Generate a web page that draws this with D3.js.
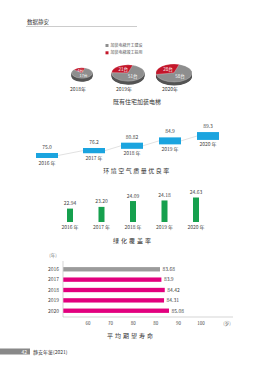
<!DOCTYPE html>
<html>
<head>
<meta charset="utf-8">
<script src="https://cdn.jsdelivr.net/npm/d3@7"></script>
<style>
  body { margin: 0; background: #fff; }
  svg { display: block; font-family: "Noto Sans CJK SC", "Noto Sans", sans-serif; }
</style>
</head>
<body>
<div id="chart"></div>
<script>
// elevator pies
const pieYears = ["2018年", "2019年", "2020年"];
const pieStarted = [17, 51, 58];   // 加装电梯开工建设
const pieFinished = [4, 21, 28];   // 加装电梯竣工投用

// air quality
const airYears = ["2016 年", "2017 年", "2018 年", "2019 年", "2020 年"];
const airValues = [75.0, 76.2, 80.82, 84.9, 89.3];
const airLabels = ["75.0", "76.2", "80.82", "84.9", "89.3"];

// green coverage
const greenYears = ["2016 年", "2017 年", "2018 年", "2019 年", "2020 年"];
const greenValues = [22.94, 23.20, 24.09, 24.18, 24.63];

// life expectancy
const lifeYears = ["2016", "2017", "2018", "2019", "2020"];
const lifeValues = [83.68, 83.9, 84.42, 84.31, 85.08];
const lifeLabels = ["83.68", "83.9", "84.42", "84.31", "85.08"];
const lifeTicks = ["60", "70", "80", "80", "90", "100"];

const W = 274, H = 380;
const svg = d3.select("#chart").append("svg").attr("width", W).attr("height", H);

// header
svg.append("text").attr("x", 27).attr("y", 24).attr("font-size", 5.5).attr("fill", "#333").text("数据静安");
svg.append("line").attr("x1", 26).attr("x2", 137).attr("y1", 26.5).attr("y2", 26.5)
    .attr("stroke", "#aaa").attr("stroke-width", 0.6);

// ---------- pies ----------
const legend = [
    { name: "加装电梯开工建设", color: "#8e8e8e" },
    { name: "加装电梯竣工投用", color: "#c4162a" }
];
legend.forEach((d, i) => {
    svg.append("rect").attr("x", 105.5).attr("y", 44 + i * 7.3).attr("width", 3).attr("height", 3).attr("fill", d.color);
    svg.append("text").attr("x", 110.5).attr("y", 47 + i * 7.3).attr("font-size", 4).attr("fill", "#555").text(d.name);
});

const px = d3.scalePoint().domain(pieYears).range([82, 174]);
const totals = pieYears.map((y, i) => pieStarted[i] + pieFinished[i]);
const rScale = d3.scaleLinear().domain([0, d3.max(totals)]).range([8, 18]);

pieYears.forEach((yr, i) => {
    const r = rScale(totals[i]);
    const data = [
        { v: pieFinished[i], c: "#c4162a", side: "#7d0d19" },
        { v: pieStarted[i], c: "#8e8e8e", side: "#555" }
    ];
    const redAng = 2 * Math.PI * pieFinished[i] / totals[i];
    const start = 0.3 - redAng;
    const arcs = d3.pie().sort(null).value(d => d.v).startAngle(start).endAngle(start + 2 * Math.PI)(data);
    const arc = d3.arc().innerRadius(0).outerRadius(r);
    const g = svg.append("g").attr("transform", `translate(${px(yr)},73)`);
    const depth = 3.5;
    for (let dpt = depth; dpt > 0; dpt -= 0.5) {
        g.append("g").attr("transform", `translate(0,${dpt}) scale(1,0.5)`)
            .selectAll("path").data(arcs).join("path")
            .attr("d", arc).attr("fill", d => d.data.side);
    }
    const top = g.append("g").attr("transform", "scale(1,0.5)");
    top.selectAll("path").data(arcs).join("path")
        .attr("d", arc).attr("fill", d => d.data.c)
        .attr("stroke", "#fff").attr("stroke-width", 0.3);
    arcs.forEach(a => {
        const c = d3.arc().innerRadius(r * 0.5).outerRadius(r * 0.5).centroid(a);
        g.append("text").attr("x", c[0]).attr("y", c[1] * 0.5 + 1.5)
            .attr("text-anchor", "middle").attr("font-size", r > 12 ? 4.5 : 3.8)
            .attr("fill", "#fff").text(a.data.v + "台");
    });
    svg.append("text").attr("x", px(yr) - 4).attr("y", 91).attr("text-anchor", "middle")
        .attr("font-size", 5).attr("fill", "#333").text(yr);
});
svg.append("text").attr("x", 137).attr("y", 103.5).attr("text-anchor", "middle")
    .attr("font-size", 6).attr("fill", "#333").text("既有住宅加装电梯");

// ---------- air quality ----------
// first step sits a bit further left than the rest
const axIdx = d3.scaleLinear().domain([0, 1, 4]).range([47, 94, 208]);
const ax = d => axIdx(airYears.indexOf(d));
const ay = d3.scalePoint().domain(airYears).range([155.5, 136]);
const ah = d3.scaleLinear().domain([70, 90]).range([4, 8]);
const bw = 22;
const airLinks = d3.pairs(airYears);
svg.selectAll(".air-link").data(airLinks).join("line")
    .attr("x1", d => ax(d[0]) + bw / 2).attr("y1", d => ay(d[0]))
    .attr("x2", d => ax(d[1]) - bw / 2).attr("y2", d => ay(d[1]))
    .attr("stroke", "#ccc").attr("stroke-width", 0.6);
svg.selectAll(".air-bar").data(airYears).join("rect")
    .attr("x", d => ax(d) - bw / 2)
    .attr("y", (d, i) => ay(d) - ah(airValues[i]) / 2)
    .attr("width", bw)
    .attr("height", (d, i) => ah(airValues[i]))
    .attr("fill", "#1ba4df");
svg.selectAll(".air-val").data(airYears).join("text")
    .attr("x", d => ax(d)).attr("y", (d, i) => ay(d) - ah(airValues[i]) / 2 - 4)
    .attr("text-anchor", "middle").attr("font-size", 5).attr("fill", "#444")
    .text((d, i) => airLabels[i]);
svg.selectAll(".air-yr").data(airYears).join("text")
    .attr("x", d => ax(d)).attr("y", (d, i) => ay(d) + ah(airValues[i]) / 2 + 6.5)
    .attr("text-anchor", "middle").attr("font-size", 5).attr("fill", "#444")
    .text(d => d);
svg.append("text").attr("x", 137).attr("y", 173).attr("text-anchor", "middle")
    .attr("font-size", 6).attr("letter-spacing", 1.5).attr("fill", "#333").text("环境空气质量优良率");

// ---------- green coverage ----------
const gx = d3.scalePoint().domain(greenYears).range([70, 196]);
const gy = d3.scaleLinear().domain([20.9, 24.63]).range([222, 197.5]);
svg.selectAll(".g-bar").data(greenYears).join("rect")
    .attr("x", d => gx(d) - 3)
    .attr("y", (d, i) => gy(greenValues[i]))
    .attr("width", 6)
    .attr("height", (d, i) => gy(20.9) - gy(greenValues[i]))
    .attr("fill", "#16a04e");
svg.selectAll(".g-val").data(greenYears).join("text")
    .attr("x", d => gx(d)).attr("y", (d, i) => gy(greenValues[i]) - 3.5)
    .attr("text-anchor", "middle").attr("font-size", 5).attr("fill", "#444")
    .text((d, i) => greenValues[i].toFixed(2));
svg.selectAll(".g-yr").data(greenYears).join("text")
    .attr("x", d => gx(d)).attr("y", 229)
    .attr("text-anchor", "middle").attr("font-size", 5).attr("fill", "#444")
    .text(d => d);
svg.append("text").attr("x", 133).attr("y", 243).attr("text-anchor", "middle")
    .attr("font-size", 6).attr("letter-spacing", 2).attr("fill", "#333").text("绿化覆盖率");

// ---------- life expectancy ----------
const lx = d3.scaleLinear().domain([68.6, 85.08]).range([63, 169]);
const ly = d3.scaleBand().domain(lifeYears).range([264, 316]).paddingInner(0.58).paddingOuter(0.3);
svg.append("line").attr("x1", 63).attr("x2", 63).attr("y1", 261).attr("y2", 317)
    .attr("stroke", "#bbb").attr("stroke-width", 0.6);
svg.append("line").attr("x1", 63).attr("x2", 233).attr("y1", 317).attr("y2", 317)
    .attr("stroke", "#bbb").attr("stroke-width", 0.6);
svg.append("text").attr("x", 53).attr("y", 257).attr("text-anchor", "middle")
    .attr("font-size", 4.5).attr("fill", "#777").text("(年)");
svg.selectAll(".l-bar").data(lifeYears).join("rect")
    .attr("x", 63.3)
    .attr("y", d => ly(d))
    .attr("width", (d, i) => lx(lifeValues[i]) - 63.3)
    .attr("height", ly.bandwidth())
    .attr("fill", (d, i) => i === 0 ? "#9b9b9b" : "#e2007e");
svg.selectAll(".l-val").data(lifeYears).join("text")
    .attr("x", (d, i) => lx(lifeValues[i]) + 2.5)
    .attr("y", d => ly(d) + ly.bandwidth() / 2 + 1.8)
    .attr("font-size", 5).attr("fill", "#444")
    .text((d, i) => lifeLabels[i]);
svg.selectAll(".l-yr").data(lifeYears).join("text")
    .attr("x", 59)
    .attr("y", d => ly(d) + ly.bandwidth() / 2 + 1.8)
    .attr("text-anchor", "end").attr("font-size", 5).attr("fill", "#444")
    .text(d => d);
const tx = d3.scaleLinear().domain([0, lifeTicks.length - 1]).range([88, 201]);
svg.selectAll(".l-tick").data(lifeTicks).join("text")
    .attr("x", (d, i) => tx(i)).attr("y", 325)
    .attr("text-anchor", "middle").attr("font-size", 4.5).attr("fill", "#444")
    .text(d => d);
svg.append("text").attr("x", 227).attr("y", 325).attr("text-anchor", "middle")
    .attr("font-size", 4.5).attr("fill", "#777").text("(岁)");
svg.append("text").attr("x", 131).attr("y", 337.5).attr("text-anchor", "middle")
    .attr("font-size", 6).attr("letter-spacing", 2).attr("fill", "#333").text("平均期望寿命");

// footer
svg.append("rect").attr("x", 0).attr("y", 348.5).attr("width", 30).attr("height", 6).attr("fill", "#888");
svg.append("text").attr("x", 27).attr("y", 353.5).attr("text-anchor", "end")
    .attr("font-size", 5).attr("fill", "#fff").text("42");
svg.append("text").attr("x", 33).attr("y", 353.5).attr("font-size", 5).attr("fill", "#333").text("静安年鉴(2021)");
</script>
</body>
</html>
